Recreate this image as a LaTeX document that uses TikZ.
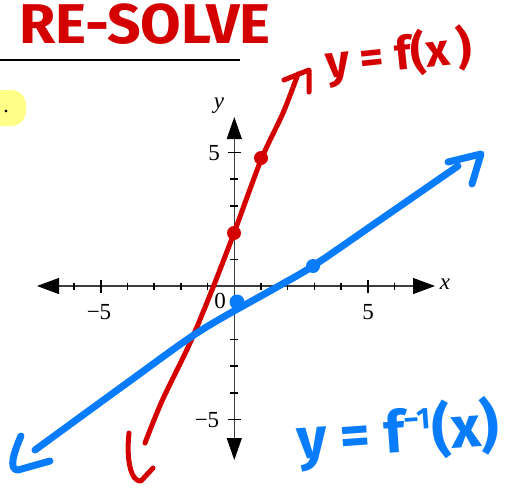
\documentclass[tikz,border=0pt]{standalone}
\usepackage{fontspec}
\setmainfont{Liberation Serif}
\newfontfamily\hand{Fira Sans}
\usetikzlibrary{arrows.meta}
\definecolor{penred}{RGB}{212,0,0}
\definecolor{penblue}{RGB}{8,124,250}
\definecolor{hl}{RGB}{255,255,136}
\definecolor{axisgray}{RGB}{60,60,60}
\begin{document}
\begin{tikzpicture}[x=1pt,y=-1pt,
  redpen/.style={penred,line width=5pt,line cap=round,line join=round},
  bluepen/.style={penblue,line width=7pt,line cap=round,line join=round},
  tickmark/.style={black,line width=1.5pt},
  axisline/.style={axisgray,line width=1.1pt},
  ticklabel/.style={font=\fontsize{23}{23}\selectfont,inner sep=0pt},
  handred/.style={penred,inner sep=0pt,font=\hand\bfseries},
  handblue/.style={penblue,inner sep=0pt,font=\hand\bfseries}]
\useasboundingbox (0,0) rectangle (511,491);
\begin{scope}
\clip (0,0) rectangle (511,491);
% highlight and rule
\fill[hl,rounded corners=15pt] (-20,90) rectangle (26,126);
\node[inner sep=0pt,anchor=base,font=\fontsize{22}{22}\selectfont] (dot) at (6,112) {.};
\draw[black,line width=2.5pt] (0,60) -- (240,60);
\node[handred,font=\hand\bfseries\fontsize{56}{56}\selectfont,xscale=1.05] (title) at (145,24) {RE-SOLVE};
% axes
\def\ox{234.3}\def\oy{286}\def\u{26.7}
\draw[axisline,{Triangle[length=22pt,width=16pt,color=black]}-{Triangle[length=22pt,width=16pt,color=black]}] (37,\oy) -- (435,\oy);
\draw[axisline,{Triangle[length=22pt,width=15pt,color=black]}-{Triangle[length=22pt,width=15pt,color=black]}] (\ox,460) -- (\ox,117);
\foreach \i in {-6,-4,-3,-2,-1,1,2,3,4,6}{
  \draw[tickmark] ({\ox+\u*\i},{\oy-3.5}) -- ({\ox+\u*\i},{\oy+3.5});}
\foreach \i in {-5,5}{
  \draw[tickmark] ({\ox+\u*\i},{\oy-6.5}) -- ({\ox+\u*\i},{\oy+6.5});
  \draw[tickmark] ({\ox-6.5},{\oy-\u*\i}) -- ({\ox+6.5},{\oy-\u*\i});}
\foreach \i in {-4,-3,-2,-1,1,2,3,4}{
  \draw[tickmark] ({\ox-4},{\oy-\u*\i}) -- ({\ox+4},{\oy-\u*\i});}
\node[ticklabel] (xm5) at (99,312) {−5};
\node[ticklabel] (xp5) at (368,312) {5};
\node[ticklabel] (zero) at (220,301) {0};
\node[ticklabel] (yp5) at (214,153) {5};
\node[ticklabel] (ym5) at (207,420) {−5};
\node[ticklabel,font=\fontsize{23}{23}\selectfont\itshape] (ylab) at (219,106) {y};
\node[ticklabel,font=\fontsize{23}{23}\selectfont\itshape] (xlab) at (445,284) {x};
% red line y=f(x)
\draw[redpen] plot[smooth,tension=0.5] coordinates {(145,443) (162,401) (190,343) (212,290) (234,233) (261,160) (283,113) (298,74)};
\draw[redpen] (284,80) -- (309,70) -- (309,92);
\draw[redpen] (129,433) .. controls (126,460) and (131,482) .. (141,481) -- (153,468);
\fill[penred] (234,233) circle (7);
\fill[penred] (261,158) circle (7);
% blue line
\draw[bluepen] plot[smooth,tension=0.5] coordinates {(35,450) (127,383) (200,331) (277,287) (313,266) (377,222) (458,166)};
\draw[bluepen] (448,162) -- (481,154) -- (472,184);
\draw[bluepen] (21,436) .. controls (14,452) and (8,470) .. (18,470) -- (50,461);
\fill[penblue] (237,302) circle (7.5);
\fill[penblue] (313,266) circle (7);
% labels
\node[handred,font=\hand\bfseries\fontsize{46}{46}\selectfont,rotate=6] (flab) at (399,56) {y = f(x\,)};
\node[handblue,font=\hand\bfseries\fontsize{58}{58}\selectfont,rotate=4] (ginvlab) at (398,434) {y = f\raisebox{22pt}{\fontsize{30}{30}\selectfont −1}(x)};
\end{scope}
\end{tikzpicture}
\end{document}
